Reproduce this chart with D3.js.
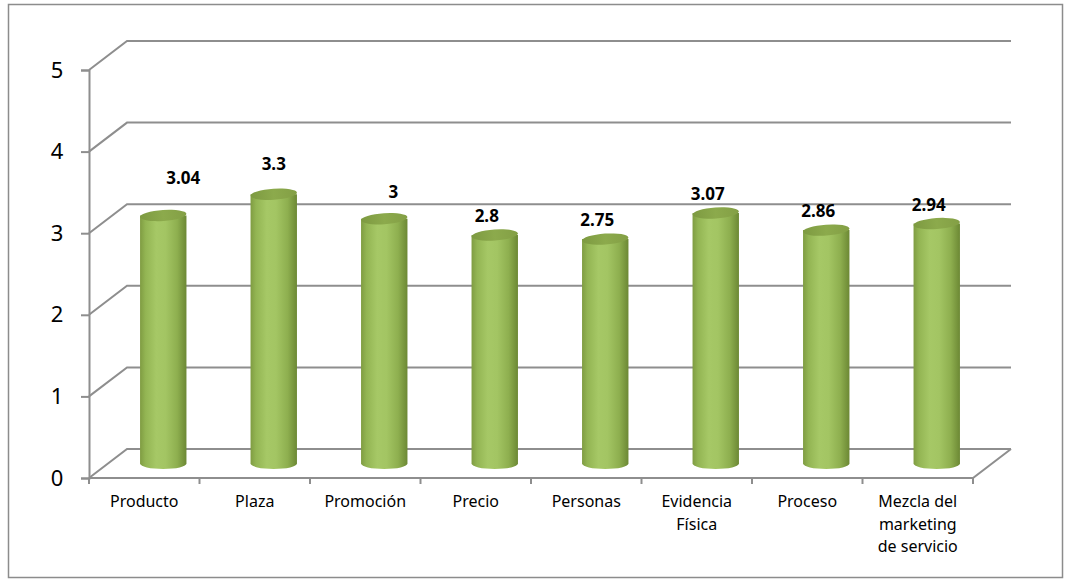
<!DOCTYPE html>
<html>
<head>
<meta charset="utf-8">
<script src="https://cdn.jsdelivr.net/npm/d3@7"></script>
<style>
  body { margin: 0; background: #fff; }
  svg { display: block; font-family: "Noto Sans", "Open Sans", sans-serif; }
</style>
</head>
<body>
<div id="chart"></div>
<script>
// chart data
const categories = ['Producto', 'Plaza', 'Promoción', 'Precio', 'Personas', 'Evidencia Física', 'Proceso', 'Mezcla del marketing de servicio'];
const categoryLines = [['Producto'], ['Plaza'], ['Promoción'], ['Precio'], ['Personas'], ['Evidencia', 'Física'], ['Proceso'], ['Mezcla del', 'marketing', 'de servicio']];
const values = [3.04, 3.3, 3, 2.8, 2.75, 3.07, 2.86, 2.94];
const valueLabels = ['3.04', '3.3', '3', '2.8', '2.75', '3.07', '2.86', '2.94'];
const yTicks = [0, 1, 2, 3, 4, 5];

// labels that were dragged by hand in the original (pixel nudges)
const labelNudge = [[28, -18], [8, -11], [17, -8], [0, 0], [0, 0], [0, 0], [0, 0], [0, 0]];

const svgWidth = 1065, svgHeight = 579;
const depthX = 38, depthY = 29;   // 3d depth of the plot box
const plotLeft = 89, plotRight = 973, plotBottom = 478, plotTop = 70;

const svg = d3.select('#chart').append('svg')
  .attr('width', svgWidth)
  .attr('height', svgHeight);

// outer chart border
svg.append('rect')
  .attr('x', 8.5).attr('y', 4.5)
  .attr('width', 1054).attr('height', 573)
  .attr('fill', 'none')
  .attr('stroke', '#8c8c8c')
  .attr('stroke-width', 1.5);

const xScale = d3.scaleBand()
  .domain(categories)
  .range([plotLeft, plotRight])
  .paddingInner(0.58)
  .paddingOuter(0.29);

const yScale = d3.scaleLinear()
  .domain([0, 5])
  .range([plotBottom, plotTop]);

const gridColor = '#8e8e8e';

// back wall gridlines with the diagonal on the side wall
const grid = svg.append('g');
yTicks.forEach(t => {
  const y = yScale(t);
  const pts = [[plotLeft, y], [plotLeft + depthX, y - depthY], [plotRight + depthX, y - depthY]];
  grid.append('path')
    .attr('d', d3.line()(pts))
    .attr('fill', 'none')
    .attr('stroke', gridColor)
    .attr('stroke-width', 2);
});

// floor front edge and right edge
grid.append('path')
  .attr('d', d3.line()([[plotLeft, plotBottom], [plotRight, plotBottom], [plotRight + depthX, plotBottom - depthY]]))
  .attr('fill', 'none')
  .attr('stroke', gridColor)
  .attr('stroke-width', 2);

// front y axis
const yAxis = d3.axisLeft(yScale).tickValues(yTicks).tickFormat(d3.format('d')).tickSize(8);
const yg = svg.append('g')
  .attr('transform', `translate(${plotLeft},0)`)
  .attr('font-family', null)
  .call(yAxis)
  .attr('font-family', null)
  .attr('font-size', null);
yg.select('.domain').attr('stroke', gridColor).attr('stroke-width', 2);
yg.selectAll('.tick line').attr('stroke', gridColor).attr('stroke-width', 2);
yg.selectAll('.tick text')
  .attr('fill', '#000')
  .style('font-size', '22px')
  .attr('text-anchor', 'middle')
  .attr('x', -32);

// x axis ticks on the floor front edge
const xEdges = categories.map(c => xScale(c) - xScale.step() * xScale.paddingInner() / 2);
xEdges.push(plotRight);
svg.append('g').selectAll('line')
  .data(xEdges)
  .enter()
  .append('line')
  .attr('x1', d => d).attr('x2', d => d)
  .attr('y1', plotBottom).attr('y2', plotBottom + 6)
  .attr('stroke', gridColor)
  .attr('stroke-width', 2);

// category labels
const catG = svg.append('g');
categories.forEach((c, i) => {
  const cx = xScale(c) + xScale.bandwidth() / 2;
  const t = catG.append('text')
    .attr('x', cx)
    .attr('y', 507)
    .attr('text-anchor', 'middle')
    .style('font-size', '16px')
    .attr('fill', '#000');
  categoryLines[i].forEach((line, j) => {
    t.append('tspan')
      .attr('x', cx)
      .attr('dy', j === 0 ? 0 : 22.5)
      .text(line);
  });
});

// gradients for the cylinders
const defs = svg.append('defs');
const bodyGrad = defs.append('linearGradient').attr('id', 'body').attr('x1', 0).attr('x2', 1).attr('y1', 0).attr('y2', 0);
[[0, '#7f9c42'], [0.12, '#93b553'], [0.35, '#a6c866'], [0.55, '#a3c563'], [0.8, '#8eaf4f'], [1, '#6c8834']]
  .forEach(s => bodyGrad.append('stop').attr('offset', s[0]).attr('stop-color', s[1]));
const topGrad = defs.append('linearGradient').attr('id', 'topcap').attr('x1', 0).attr('x2', 1).attr('y1', 0).attr('y2', 0);
[[0, '#7d9a41'], [0.5, '#8caa4c'], [1, '#839f45']]
  .forEach(s => topGrad.append('stop').attr('offset', s[0]).attr('stop-color', s[1]));

// cylinders sit halfway into the depth
const rx = xScale.bandwidth() / 2;
const ry = 5.5;
const bars = svg.append('g').selectAll('g')
  .data(values)
  .enter()
  .append('g')
  .attr('transform', (d, i) => `translate(${xScale(categories[i]) + rx + depthX / 2},${-depthY / 2})`);

bars.append('path')
  .attr('d', d => {
    const yt = yScale(d), yb = yScale(0);
    return `M${-rx},${yt} L${-rx},${yb} A${rx},${ry} 0 0 0 ${rx},${yb} L${rx},${yt} Z`;
  })
  .attr('fill', 'url(#body)');

bars.append('ellipse')
  .attr('cx', 0)
  .attr('cy', d => yScale(d))
  .attr('rx', rx)
  .attr('ry', ry)
  .attr('transform', d => `rotate(-4, 0, ${yScale(d)})`)
  .attr('fill', 'url(#topcap)');

// value labels
bars.append('text')
  .attr('x', (d, i) => -8 + labelNudge[i][0])
  .attr('y', (d, i) => yScale(d) - 19 + labelNudge[i][1])
  .attr('dy', '0.35em')
  .attr('text-anchor', 'middle')
  .style('font-size', '17px')
  .style('font-weight', 'bold')
  .attr('fill', '#000')
  .text((d, i) => valueLabels[i]);
</script>
</body>
</html>
